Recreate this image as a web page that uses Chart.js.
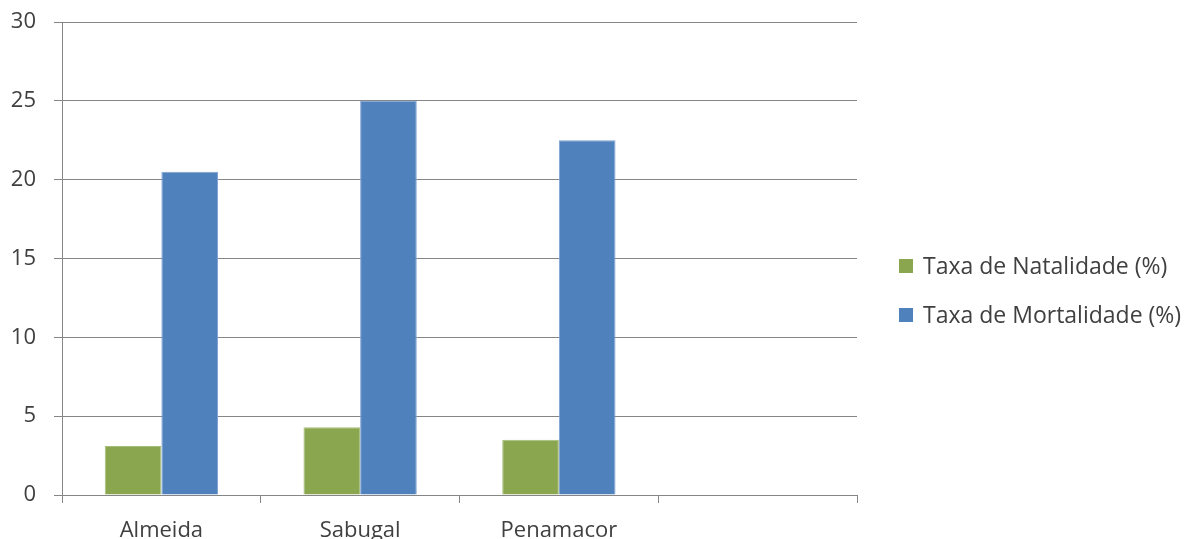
<!DOCTYPE html>
<html>
<head>
<meta charset="utf-8">
<script src="https://cdn.jsdelivr.net/npm/chart.js@4.4.0/dist/chart.umd.min.js"></script>
<style>
    html, body { margin: 0; padding: 0; background: #fff; }
    #wrap { width: 1192px; height: 539px; position: relative; }
</style>
</head>
<body>
<div id="wrap"><canvas id="chart"></canvas></div>
<script>
// categories (the 4th slot is empty in the original)
const municipios = ['Almeida', 'Sabugal', 'Penamacor', ''];
const natalidade = [3.1, 4.3, 3.5, null];
const mortalidade = [20.5, 25.0, 22.5, null];
const yTicks = [0, 5, 10, 15, 20, 25, 30];
const seriesNames = ['Taxa de Natalidade (%)', 'Taxa de Mortalidade (%)'];

const FONT = '"Open Sans", "Noto Sans", sans-serif';
const textColor = '#404040';
const gridColor = '#868686';

// legend drawn by hand so it can sit where Excel put it
const sideLegend = {
    id: 'sideLegend',
    afterDraw(chart) {
        const ctx = chart.ctx;
        const rows = [266, 315];
        ctx.save();
        ctx.font = '23px ' + FONT;
        ctx.textBaseline = 'middle';
        ctx.textAlign = 'left';
        chart.data.datasets.forEach((ds, i) => {
            ctx.fillStyle = ds.backgroundColor;
            ctx.fillRect(899, rows[i] - 7, 14, 14);
            ctx.fillStyle = textColor;
            ctx.fillText(ds.label, 923, rows[i] + 1);
        });
        ctx.restore();
    }
};

new Chart(document.getElementById('chart'), {
    type: 'bar',
    data: {
        labels: municipios,
        datasets: [
            {
                label: seriesNames[0],
                data: natalidade,
                backgroundColor: '#8AA64F',
                borderColor: '#A6BD78',
                borderWidth: 1,
                categoryPercentage: 0.57,
                barPercentage: 1.0
            },
            {
                label: seriesNames[1],
                data: mortalidade,
                backgroundColor: '#4F81BD',
                borderColor: '#7FA3D2',
                borderWidth: 1,
                categoryPercentage: 0.57,
                barPercentage: 1.0
            }
        ]
    },
    options: {
        responsive: true,
        maintainAspectRatio: false,
        animation: false,
        layout: { padding: { top: 22, right: 335, left: 0, bottom: 0 } },
        plugins: {
            legend: { display: false },
            tooltip: { enabled: false }
        },
        scales: {
            x: {
                grid: {
                    offset: true,
                    drawOnChartArea: false,
                    drawTicks: true,
                    tickLength: 8,
                    color: gridColor
                },
                border: { color: gridColor, width: 1 },
                ticks: {
                    color: textColor,
                    font: { family: FONT, size: 22 },
                    padding: 15,
                    maxRotation: 0,
                    autoSkip: false
                },
                afterFit(scale) { scale.height = 44; }
            },
            y: {
                min: 0,
                max: 30,
                afterBuildTicks(scale) {
                    scale.ticks = yTicks.map(v => ({ value: v }));
                },
                grid: {
                    color: gridColor,
                    tickLength: 8,
                    drawTicks: true
                },
                border: { color: gridColor, width: 1 },
                ticks: {
                    color: textColor,
                    font: { family: FONT, size: 22, lineHeight: 0.8 },
                    padding: 18
                },
                afterFit(scale) {
                    scale.width = 62;
                    scale.paddingTop = 0;
                    scale.paddingBottom = 0;
                }
            }
        }
    },
    plugins: [sideLegend]
});
</script>
</body>
</html>
